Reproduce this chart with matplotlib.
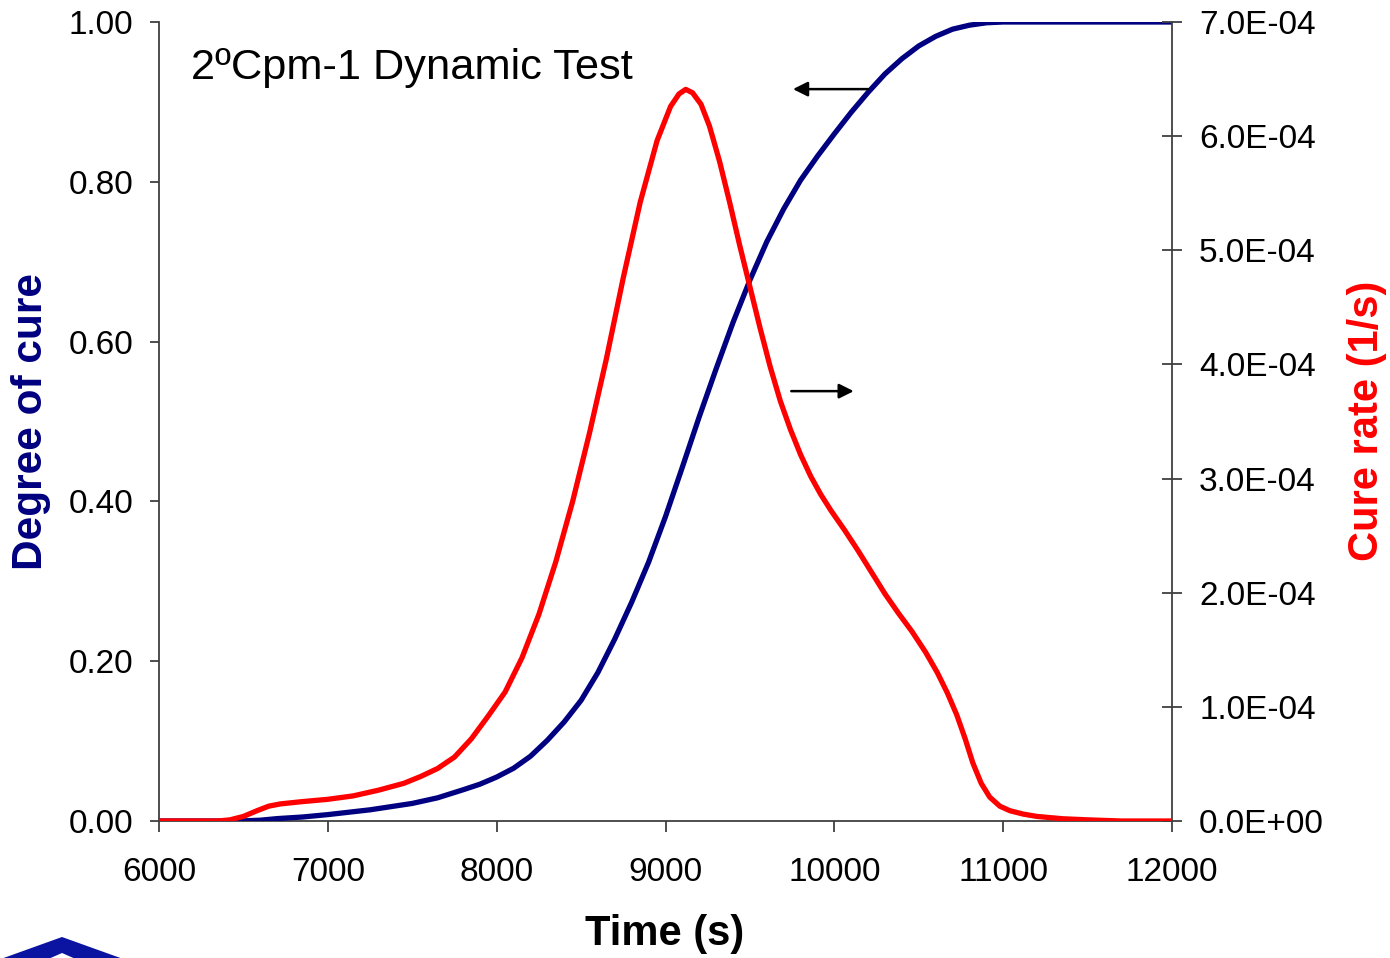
import numpy as np
import matplotlib
matplotlib.use('Agg')
import matplotlib.pyplot as plt
from matplotlib.patches import Polygon

plt.rcParams['font.family'] = ['Liberation Sans', 'DejaVu Sans']

# degree of cure (left axis)
t_cure = [6000, 6480, 6600, 6700, 6850, 7000, 7250, 7500, 7650, 7800, 7900, 8000,
          8100, 8200, 8300, 8400, 8500, 8600, 8700, 8800, 8900, 9000, 9100, 9200,
          9300, 9400, 9500, 9600, 9700, 9800, 9900, 10000, 10100, 10200, 10300,
          10400, 10500, 10600, 10700, 10800, 10900, 11000, 12000]
alpha = [0.0, 0.0, 0.001, 0.003, 0.005, 0.008, 0.014, 0.022, 0.029, 0.039, 0.046, 0.055,
         0.066, 0.081, 0.101, 0.124, 0.151, 0.186, 0.228, 0.274, 0.324, 0.381, 0.443, 0.506,
         0.566, 0.624, 0.677, 0.725, 0.766, 0.802, 0.832, 0.860, 0.887, 0.912, 0.935,
         0.954, 0.970, 0.982, 0.991, 0.996, 0.999, 1.0, 1.0]

# cure rate (right axis)
t_rate = [6000, 6350, 6420, 6500, 6580, 6650, 6720, 6850, 7000, 7150, 7300, 7450, 7550,
          7650, 7750, 7850, 7950, 8050, 8150, 8250, 8350, 8450, 8550, 8650, 8750, 8850,
          8950, 9030, 9080, 9120, 9160, 9210, 9260, 9320, 9380, 9440, 9500, 9560, 9620,
          9680, 9740, 9800, 9860, 9920, 9980, 10060, 10140, 10220, 10300, 10380, 10460,
          10540, 10610, 10670, 10725, 10775, 10820, 10870, 10920, 10980, 11040, 11120,
          11200, 11350, 11500, 11700, 12000]
rate = [0.0, 0.0, 0.01e-4, 0.04e-4, 0.09e-4, 0.13e-4, 0.15e-4, 0.17e-4, 0.19e-4, 0.22e-4,
        0.27e-4, 0.33e-4, 0.39e-4, 0.46e-4, 0.56e-4, 0.72e-4, 0.92e-4, 1.13e-4, 1.43e-4,
        1.81e-4, 2.27e-4, 2.80e-4, 3.40e-4, 4.05e-4, 4.76e-4, 5.42e-4, 5.96e-4, 6.26e-4,
        6.37e-4, 6.41e-4, 6.38e-4, 6.28e-4, 6.09e-4, 5.78e-4, 5.42e-4, 5.04e-4, 4.68e-4,
        4.32e-4, 3.98e-4, 3.68e-4, 3.43e-4, 3.21e-4, 3.02e-4, 2.86e-4, 2.72e-4, 2.55e-4,
        2.37e-4, 2.18e-4, 1.99e-4, 1.82e-4, 1.66e-4, 1.48e-4, 1.30e-4, 1.12e-4, 0.93e-4,
        0.72e-4, 0.51e-4, 0.33e-4, 0.21e-4, 0.13e-4, 0.09e-4, 0.06e-4, 0.04e-4, 0.02e-4,
        0.01e-4, 0.0, 0.0]

x_ticks = [6000, 7000, 8000, 9000, 10000, 11000, 12000]
left_ticks = [0.0, 0.2, 0.4, 0.6, 0.8, 1.0]
right_ticks = [0.0, 1e-4, 2e-4, 3e-4, 4e-4, 5e-4, 6e-4, 7e-4]
right_labels = ['0.0E+00', '1.0E-04', '2.0E-04', '3.0E-04', '4.0E-04',
                '5.0E-04', '6.0E-04', '7.0E-04']

navy = '#000080'
red = '#ff0000'
axcol = '#404040'

W, H = 1390, 958
fig = plt.figure(figsize=(W / 100, H / 100), dpi=100)
ax = fig.add_axes([159 / W, 1 - 821 / H, (1172 - 159) / W, (821 - 22) / H])
ax2 = ax.twinx()

ax.plot(t_cure, alpha, color=navy, lw=3.8, solid_joinstyle='round', zorder=3)
ax2.plot(t_rate, rate, color=red, lw=3.8, solid_joinstyle='round', zorder=3)

ax.set_xlim(6000, 12000)
ax.set_ylim(0, 1)
ax2.set_ylim(0, 7e-4)

ax.set_xticks(x_ticks)
ax.set_xticklabels([str(v) for v in x_ticks])
ax.set_yticks(left_ticks)
ax.set_yticklabels(['%.2f' % v for v in left_ticks])
ax2.set_yticks(right_ticks)
ax2.set_yticklabels(right_labels)

for a in (ax, ax2):
    a.spines['top'].set_visible(False)
    for s in ('left', 'right', 'bottom'):
        a.spines[s].set_color(axcol)
        a.spines[s].set_linewidth(1.3)
ax.spines['right'].set_visible(False)
ax2.spines['left'].set_visible(False)
ax2.spines['bottom'].set_visible(False)

ax.tick_params(axis='x', direction='out', length=8, width=1.3, color=axcol,
               labelsize=24, pad=18)
ax.tick_params(axis='y', direction='out', length=6.5, width=1.3, color=axcol,
               labelsize=24, pad=12)
ax2.tick_params(axis='y', direction='inout', length=15, width=1.3, color=axcol,
                labelsize=24, pad=12)

ax.text(0.032, 0.942, '2ºCpm-1 Dynamic Test', transform=ax.transAxes,
        fontsize=31.2, ha='left', va='center')

# direction arrows
ax.annotate('', xy=(9755, 0.916), xytext=(10200, 0.916),
            arrowprops=dict(arrowstyle='-|>', mutation_scale=22, lw=1.8, color='black',
                            shrinkA=0, shrinkB=0))
ax.annotate('', xy=(10115, 0.538), xytext=(9745, 0.538),
            arrowprops=dict(arrowstyle='-|>', mutation_scale=22, lw=1.8, color='black',
                            shrinkA=0, shrinkB=0))

fig.text(31 / W, 1 - 421 / H, 'Degree of cure', rotation=90, color=navy,
         fontsize=30.5, fontweight='bold', ha='center', va='center')
fig.text(1367 / W, 1 - 421 / H, 'Cure rate (1/s)', rotation=90, color=red,
         fontsize=30, fontweight='bold', ha='center', va='center')
fig.text(665 / W, 1 - 934 / H, 'Time (s)', color='black',
         fontsize=30, fontweight='bold', ha='center', va='center')

# logo fragment at bottom left
logo = [(-2, 960), (62, 937), (126, 960), (78, 960), (62, 953), (46, 960)]
fig.patches.append(Polygon([(x / W, 1 - y / H) for x, y in logo], closed=True,
                           transform=fig.transFigure, facecolor='#0a14a0',
                           edgecolor='none'))

fig.savefig('out.png', dpi=100)
